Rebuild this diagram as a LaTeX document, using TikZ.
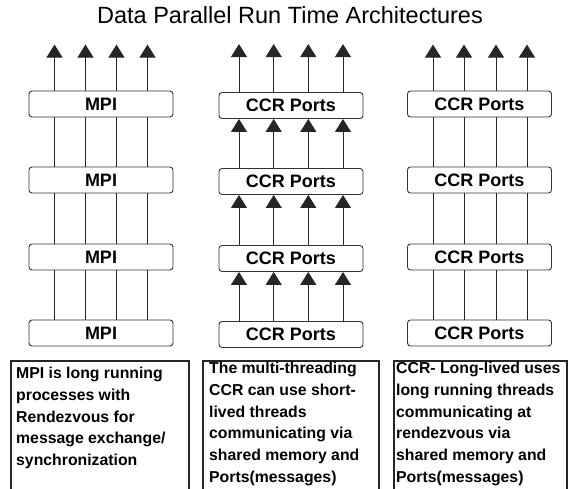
\documentclass[tikz,border=0pt]{standalone}
\usepackage{fontspec}
\setmainfont{Liberation Sans}
\usetikzlibrary{arrows.meta}

\begin{document}
\begin{tikzpicture}[x=1pt,y=-1pt,
  layer/.style={draw=black!80, line width=0.9pt, rounded corners=3pt,
    minimum width=144pt, minimum height=26pt, inner sep=0pt,
    font=\bfseries\fontsize{18}{20}\selectfont},
  wire/.style={draw=black!85, line width=1pt},
  flow/.style={wire, -{Triangle[width=16pt,length=13pt]}},
  frame/.style={draw=black!85, line width=1.6pt, anchor=north west,
    minimum height=140pt, inner sep=0pt},
  note/.style={anchor=north west, align=left, inner sep=0pt,
    font=\bfseries\fontsize{15.8}{21.7}\selectfont}
]
\useasboundingbox (0,0) rectangle (568,488);

% title
\node[anchor=base, font=\fontsize{23.5}{26}\selectfont] (title) at (290,23)
  {Data Parallel Run Time Architectures};

% four layers in each of the three stacks
\foreach \k/\yy in {1/104,2/180,3/257,4/333} {
  \node[layer] (m\k) at (101,\yy) {MPI};
  \node[layer] (c\k) at (291,\yy+1.5) {CCR Ports};
  \node[layer] (r\k) at (479.5,\yy) {CCR Ports};
}

% MPI stack: plain links, arrows out of the top layer
\foreach \dx in {-46.5,-15.5,15.5,46.5} {
  \coordinate (mtip) at ([xshift=\dx pt, yshift=46pt]m1.north);
  \draw[flow] ([xshift=\dx pt]m1.north) -- (mtip);
  \foreach \a/\b in {1/2,2/3,3/4}
    \draw[wire] ([xshift=\dx pt]m\b.north) -- ([xshift=\dx pt]m\a.south);
}

% multi-threading CCR stack: every link is directed upward
\foreach \dx in {-52,-17.3,17.3,52} {
  \coordinate (ctip) at ([xshift=\dx pt, yshift=48pt]c1.north);
  \draw[flow] ([xshift=\dx pt]c1.north) -- (ctip);
  \foreach \a/\b in {1/2,2/3,3/4}
    \draw[flow] ([xshift=\dx pt]c\b.north) -- ([xshift=\dx pt]c\a.south);
}

% long-lived CCR stack: plain links, arrows out of the top layer
\foreach \dx in {-46.5,-15.5,16.5,47.5} {
  \coordinate (rtip) at ([xshift=\dx pt, yshift=46pt]r1.north);
  \draw[flow] ([xshift=\dx pt]r1.north) -- (rtip);
  \foreach \a/\b in {1/2,2/3,3/4}
    \draw[wire] ([xshift=\dx pt]r\b.north) -- ([xshift=\dx pt]r\a.south);
}

% description panels
\node[frame, minimum width=178pt] (f1) at (10,360) {};
\node[frame, minimum width=176pt] (f2) at (202,360) {};
\node[frame, minimum width=173pt] (f3) at (393,360) {};

\node[note] (t1) at ([xshift=6pt, yshift=-7pt]f1.north west)
  {MPI is long running\\processes with\\Rendezvous for\\message exchange/\\synchronization};
\node[note] (t2) at ([xshift=7pt, yshift=-2pt]f2.north west)
  {The multi-threading\\CCR can use short-\\lived threads\\communicating via\\shared memory and\\Ports(messages)};
\node[note] (t3) at ([xshift=3pt, yshift=-2pt]f3.north west)
  {CCR- Long-lived uses\\long running threads\\communicating at\\rendezvous via\\shared memory and\\Ports(messages)};
\end{tikzpicture}
\end{document}
